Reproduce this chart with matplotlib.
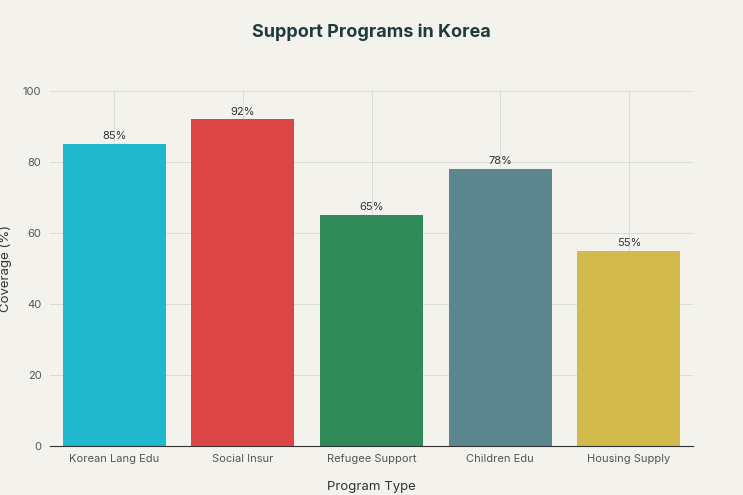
import matplotlib
matplotlib.use("Agg")
import matplotlib.pyplot as plt

categories = ["Korean Lang Edu", "Social Insur", "Refugee Support", "Children Edu", "Housing Supply"]
values = [85, 92, 65, 78, 55]
colors = ["#1FB8CD", "#DB4545", "#2E8B57", "#5D878F", "#D2BA4C"]
yticks = [0, 20, 40, 60, 80, 100]

plt.rcParams['font.family'] = ['Inter', 'DejaVu Sans']
bg = "#F3F2EC"
fig = plt.figure(figsize=(7.43, 4.95), dpi=100, facecolor=bg)
ax = fig.add_axes([0.067, 0.099, 0.866, 0.717], facecolor=bg)
x = list(range(len(categories)))
ax.bar(x, values, width=0.8, color=colors, zorder=2)
for xi, v in zip(x, values):
    ax.text(xi, v + 0.8, f"{v}%", ha="center", va="bottom", fontsize=8, color="#333333", zorder=3)
ax.set_xlim(-0.5, len(categories) - 0.5)
ax.set_ylim(0, 100)
ax.set_yticks(yticks)
ax.set_xticks(x)
ax.set_xticklabels(categories)
ax.tick_params(axis="both", length=0, labelsize=8, colors="#555555", pad=6)
ax.grid(True, color="#DCDCD6", linewidth=0.7, zorder=0)
for s in ["top", "right", "left"]:
    ax.spines[s].set_visible(False)
ax.spines["bottom"].set_color("#333333")
ax.set_xlabel("Program Type", fontsize=9.5, color="#333333", labelpad=12)
ax.set_ylabel("Coverage (%)", fontsize=9.5, color="#333333", labelpad=8)
fig.text(0.5, 0.935, "Support Programs in Korea", ha="center", va="center",
         fontsize=13, fontweight="bold", color="#1F3A3F")
fig.savefig("out.png", dpi=100, facecolor=bg)
